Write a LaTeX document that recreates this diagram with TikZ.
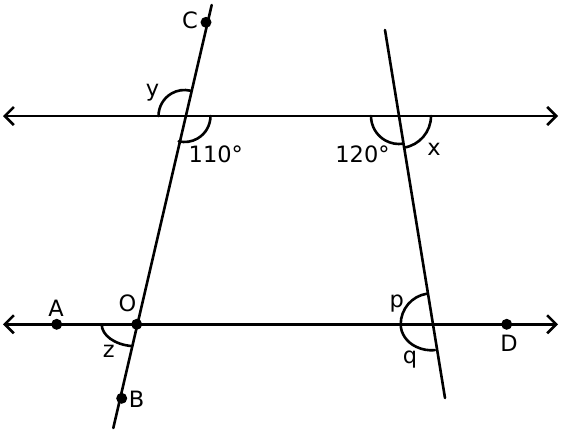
\documentclass[tikz,border=0pt]{standalone}
\usepackage{fontspec}
\setmainfont{DejaVu Sans}
\usetikzlibrary{arrows.meta,calc}
\begin{document}
\begin{tikzpicture}[x=1pt,y=-1pt,
  ln/.style={line width=2.6pt,line cap=round},
  dbl/.style={ln,{Straight Barb[length=9pt,width=18pt,line width=2.6pt]}-{Straight Barb[length=9pt,width=18pt,line width=2.6pt]}},
  dot/.style={circle,fill=black,inner sep=0pt,minimum size=11pt},
  lab/.style={font=\fontsize{22.5}{24}\selectfont,inner sep=0pt,anchor=base}]
\useasboundingbox (0,0) rectangle (562,432);
% line ends
\coordinate (TL) at (3,116);
\coordinate (TR) at (558,116);
\coordinate (BL) at (3,324.3);
\coordinate (BR) at (558,324.3);
\coordinate (LT) at (211.7,5);
\coordinate (LB) at (113.3,428);
\coordinate (RT) at (385,30);
\coordinate (RB) at (445,398);
% intersections
\coordinate (P1) at (184.5,116);
\coordinate (P2) at (399,116);
\coordinate (P3) at (431.7,324.3);
% lines
\draw[dbl] (TL) -- (TR);
\draw[dbl] (BL) -- (BR);
\draw[ln] (LB) -- (LT);
\draw[ln] (RT) -- (RB);
% points
\node[dot] (A) at (56.7,324.3) {};
\node[dot] (O) at (136.7,324.3) {};
\node[dot] (B) at (121.7,398.3) {};
\node[dot] (C) at (206,22.3) {};
\node[dot] (D) at (506.7,324.3) {};
% arcs
\draw[ln] ($(P1)+(180:26pt)$) arc[start angle=180,end angle=77,radius=26pt];
\draw[ln] ($(P1)+(0:26pt)$) arc[start angle=0,end angle=-103,radius=26pt];
\draw[ln] ($(P2)+(180:28pt)$) arc[start angle=180,end angle=279,radius=28pt];
\draw[ln] ($(P2)+(279:32pt)$) arc[start angle=279,end angle=360,radius=32pt];
\draw[ln] ($(O)+(-35pt,0pt)$) arc[start angle=180,end angle=262,x radius=35pt,y radius=22pt];
\draw[ln] ($(P3)+(99:31pt)$) arc[start angle=99,end angle=180,radius=31pt];
\draw[ln] ($(P3)+(-31pt,0pt)$) arc[start angle=180,end angle=276,x radius=31pt,y radius=26pt];
% labels
\node[lab] (lC) at (190,28.3) {C};
\node[lab] (ly) at (152.5,96.7) {y};
\node[lab] (l110) at (215.8,162.7) {110°};
\node[lab] (l120) at (362.5,162.7) {120°};
\node[lab] (lx) at (434,155) {x};
\node[lab] (lA) at (56,316) {A};
\node[lab] (lO) at (127.5,311.7) {O};
\node[lab] (lz) at (108.7,357.3) {z};
\node[lab] (lB) at (136.7,407.7) {B};
\node[lab] (lp) at (396.7,307.7) {p};
\node[lab] (lq) at (410,363.3) {q};
\node[lab] (lD) at (509,351.7) {D};
\end{tikzpicture}
\end{document}
